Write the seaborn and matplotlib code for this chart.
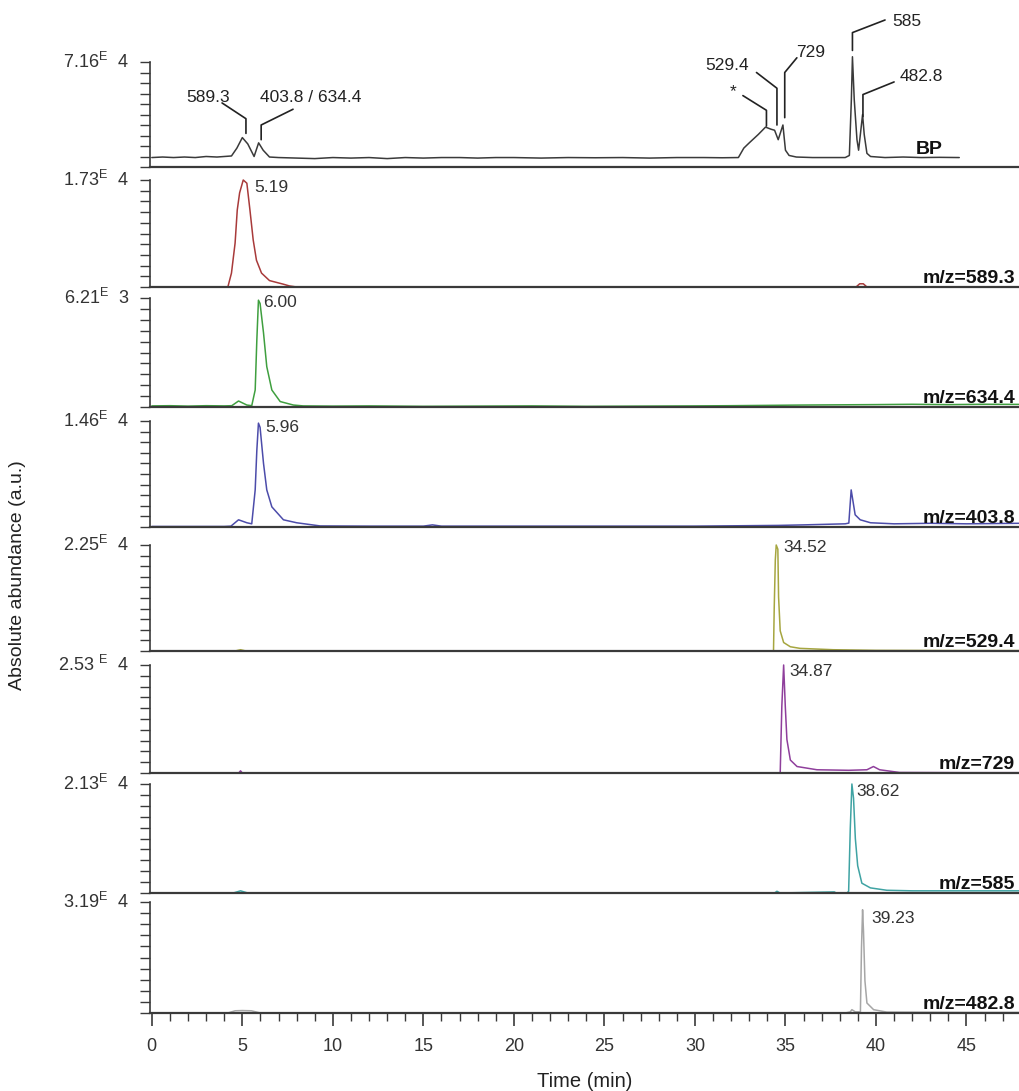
import numpy as np
import pandas as pd
import matplotlib
matplotlib.use("Agg")
import matplotlib.pyplot as plt
import seaborn as sns
from matplotlib.transforms import blended_transform_factory as btf

sns.set_style("ticks")
plt.rcParams["font.family"] = ["Liberation Sans", "DejaVu Sans"]
plt.rcParams["mathtext.fontset"] = "custom"
plt.rcParams["mathtext.rm"] = "Liberation Sans"
plt.rcParams["mathtext.it"] = "Liberation Sans"

# ---------------- data (time in min, intensity relative to panel maximum) ----
bp_time = [0, 0.6, 1.2, 1.8, 2.4, 3.0, 3.6, 4.0, 4.4, 4.7, 5.0, 5.3, 5.65, 5.9, 6.15, 6.5, 7.0, 8.0, 9.0, 10.0,
           11, 12, 13, 14, 15, 16, 17, 18, 19, 20, 21.5, 23, 24.5, 26, 27.5, 29, 30.5, 31.5, 32.4, 32.7,
           33.0, 33.5, 33.9, 34.2, 34.4, 34.6, 34.86, 35.0, 35.2, 35.6, 36.5, 37.5, 38.3, 38.53, 38.64, 38.7,
           38.8, 38.95, 39.04, 39.17, 39.26, 39.35, 39.5, 39.7, 40.5, 41.5, 42.5, 43.5, 44.6]
bp_int = [0.09, 0.095, 0.09, 0.095, 0.09, 0.10, 0.095, 0.10, 0.105, 0.18, 0.28, 0.22, 0.10, 0.23, 0.16, 0.095,
          0.09, 0.085, 0.08, 0.09, 0.085, 0.09, 0.08, 0.09, 0.085, 0.09, 0.09, 0.085, 0.09, 0.09, 0.085, 0.09,
          0.088, 0.09, 0.085, 0.09, 0.09, 0.088, 0.09, 0.18, 0.23, 0.31, 0.38, 0.36, 0.35, 0.26, 0.40, 0.16,
          0.11, 0.095, 0.09, 0.09, 0.09, 0.11, 0.64, 1.05, 0.64, 0.26, 0.16, 0.36, 0.50, 0.31, 0.13, 0.10, 0.09,
          0.095, 0.09, 0.092, 0.09]

mz5893_time = [0, 2, 4.2, 4.4, 4.6, 4.72, 4.85, 5.05, 5.25, 5.42, 5.6, 5.78, 6.06, 6.5, 7.25, 7.6, 8.0, 20,
               38.9, 39.1, 39.3, 39.5, 47.9]
mz5893_int = [0, 0, 0, 0.13, 0.41, 0.72, 0.88, 1.0, 0.97, 0.72, 0.44, 0.25, 0.13, 0.06, 0.027, 0.01, 0, 0,
              0, 0.03, 0.03, 0, 0]

mz6344_time = [0, 1.0, 2.0, 3.0, 4.0, 4.42, 4.79, 5.25, 5.52, 5.71, 5.80, 5.89, 5.98, 6.17, 6.35, 6.63, 7.09,
               7.82, 8.36, 10, 12, 15, 18, 21, 24, 27, 30, 32, 34, 36, 38, 40, 42, 44, 46, 47.9]
mz6344_int = [0.01, 0.012, 0.008, 0.012, 0.01, 0.012, 0.055, 0.018, 0.012, 0.156, 0.61, 0.98, 0.95, 0.68,
              0.37, 0.156, 0.05, 0.018, 0.01, 0.008, 0.01, 0.006, 0.008, 0.01, 0.006, 0.008, 0.01, 0.012,
              0.015, 0.018, 0.02, 0.022, 0.025, 0.022, 0.025, 0.024]

mz4038_time = [0, 2, 4.0, 4.37, 4.79, 5.25, 5.52, 5.71, 5.80, 5.89, 5.98, 6.17, 6.35, 6.63, 7.27, 8.0, 9.3,
               12, 15, 15.5, 16, 20, 25, 30, 34.6, 36, 38.3, 38.5, 38.63, 38.85, 39.13, 39.7, 41, 43, 45, 47.9]
mz4038_int = [0.005, 0.005, 0.005, 0.008, 0.068, 0.04, 0.03, 0.35, 0.72, 0.98, 0.94, 0.60, 0.35, 0.19,
              0.068, 0.04, 0.01, 0.008, 0.008, 0.02, 0.008, 0.008, 0.008, 0.008, 0.015, 0.02, 0.03, 0.037,
              0.35, 0.115, 0.068, 0.04, 0.03, 0.035, 0.03, 0.035]

mz5294_time = [0, 4.6, 4.9, 5.2, 10, 20, 30, 34.34, 34.38, 34.44, 34.49, 34.58, 34.62, 34.71, 34.9, 35.27,
               35.8, 37.65, 40, 45, 47.9]
mz5294_int = [0, 0, 0.012, 0, 0, 0, 0, 0.0, 0.41, 0.86, 1.0, 0.96, 0.51, 0.19, 0.08, 0.04, 0.025, 0.012,
              0.006, 0.004, 0.004]

mz729_time = [0, 4.8, 4.9, 5.0, 10, 20, 30, 34.71, 34.8, 34.9, 34.99, 35.08, 35.27, 35.64, 36.74, 38.5,
              39.5, 39.86, 40.2, 41.3, 45, 47.9]
mz729_int = [0, 0, 0.02, 0, 0, 0, 0, 0, 0.62, 1.0, 0.62, 0.31, 0.12, 0.06, 0.03, 0.025, 0.03, 0.06, 0.03,
             0.005, 0.003, 0.003]

mz585_time = [0, 4.5, 4.9, 5.3, 10, 20, 30, 34.4, 34.53, 34.7, 37.7, 37.8, 38.4, 38.49, 38.58, 38.67, 38.76,
              38.86, 38.99, 39.22, 39.69, 40.6, 42, 45, 47.9]
mz585_int = [0, 0, 0.02, 0, 0, 0, 0, 0, 0.016, 0, 0.01, 0, 0, 0.016, 0.59, 1.0, 0.87, 0.50, 0.25, 0.09,
             0.047, 0.025, 0.02, 0.02, 0.02]

mz4828_time = [0, 4.2, 4.6, 5.0, 5.5, 6.0, 10, 20, 30, 38.3, 38.58, 38.67, 38.86, 39.14, 39.2, 39.26, 39.31,
               39.39, 39.5, 39.87, 40.6, 45, 47.9]
mz4828_int = [0, 0, 0.02, 0.022, 0.02, 0, 0, 0, 0, 0, 0.01, 0.03, 0.01, 0.01, 0.59, 0.93, 0.74, 0.29, 0.09,
              0.03, 0.008, 0.005, 0.005]

trace_names = ["BP", "m/z=589.3", "m/z=634.4", "m/z=403.8", "m/z=529.4", "m/z=729", "m/z=585", "m/z=482.8"]
max_mantissa = ["7.16", "1.73", "6.21", "1.46", "2.25", "2.53 ", "2.13", "3.19"]
max_exponent = [4, 4, 3, 4, 4, 4, 4, 4]
peak_rt_labels = [None, "5.19", "6.00", "5.96", "34.52", "34.87", "38.62", "39.23"]

times = [bp_time, mz5893_time, mz6344_time, mz4038_time, mz5294_time, mz729_time, mz585_time, mz4828_time]
ints = [bp_int, mz5893_int, mz6344_int, mz4038_int, mz5294_int, mz729_int, mz585_int, mz4828_int]

# BP peak annotations: label, text pos (t, rel), leader line vertices
bp_notes = [
    ("589.3", (3.1, 0.66), [(3.88, 0.61), (5.2, 0.46), (5.2, 0.32)]),
    ("403.8 / 634.4", (8.8, 0.66), [(7.8, 0.55), (6.04, 0.40), (6.04, 0.26)]),
    ("*", (32.1, 0.72), [(32.65, 0.68), (33.95, 0.54), (33.95, 0.39)]),
    ("529.4", (31.8, 0.97), [(33.4, 0.90), (34.53, 0.75), (34.53, 0.40)]),
    ("729", (36.4, 1.09), [(35.63, 1.04), (34.96, 0.90), (34.96, 0.47)]),
    ("585", (41.7, 1.39), [(40.5, 1.40), (38.7, 1.28), (38.7, 1.11)]),
    ("482.8", (42.5, 0.86), [(41.0, 0.81), (39.28, 0.69), (39.28, 0.48)]),
]

# ---------------- styling / layout -----------------------------------------
colors = ["#3a3a3a", "#a83a3a", "#3f9f3f", "#4c4caa", "#a6a640", "#8f3f9c", "#3fa3a3", "#a6a6a6"]
panel_px = [(62, 167), (180, 287), (298, 407), (421, 527), (545, 651), (665, 773), (784, 893), (902, 1013)]
peak_label_pos = [None, (5.65, 0.93), (6.15, 0.96), (6.26, 0.94), (34.86, 0.98), (35.24, 0.94),
                  (38.93, 0.93), (39.76, 0.85)]

W, H = 1019, 1091
fig = plt.figure(figsize=(W / 100, H / 100), dpi=100)
left_px = 150
xmin, xmax = -0.1, 47.9
spine_c = "#3a3a3a"

axes = []
for i, (T, B) in enumerate(panel_px):
    h = B - T
    pad_top = 8 if i else 10
    bot = -0.012
    top = 1 + pad_top / h
    y0 = B - bot * h
    y1 = T - pad_top
    ax = fig.add_axes([left_px / W, 1 - y0 / H, (W - left_px) / W, (y0 - y1) / H])
    axes.append(ax)
    df = pd.DataFrame({"time": times[i], "intensity": ints[i]})
    sns.lineplot(data=df, x="time", y="intensity", ax=ax, color=colors[i], lw=1.1, sort=False,
                 estimator=None, legend=False)
    ax.set_xlim(xmin, xmax)
    ax.set_ylim(bot, top)
    for s in ["top", "right"]:
        ax.spines[s].set_visible(False)
    ax.spines["left"].set_bounds(0, 1)
    ax.spines["left"].set_color(spine_c)
    ax.spines["bottom"].set_color(spine_c)
    ax.spines["left"].set_linewidth(1.2)
    ax.spines["bottom"].set_linewidth(1.6)
    ax.spines["bottom"].set_position(("data", 0))
    ax.set_yticks(np.linspace(0, 1, 11))
    ax.tick_params(axis="y", direction="out", length=7, width=1, colors=spine_c, labelleft=False)
    ax.set_xlabel("")
    ax.set_ylabel("")
    ax.patch.set_alpha(0)

    # maximum label
    tr = btf(fig.transFigure, ax.transData)
    ax.text(129 / W, 1.0, max_mantissa[i] + r"$^{\rm E}$  " + str(max_exponent[i]), transform=tr,
            ha="right", va="center", fontsize=13, color="#333333")
    # trace name
    xr = 943 if i == 0 else 1015
    yb = 0.12 if i == 0 else 0.04
    ax.text(xr / W, yb, trace_names[i], transform=tr, ha="right", va="baseline",
            fontsize=14, fontweight="bold", color="#111111")
    # peak label
    if peak_rt_labels[i]:
        px, py = peak_label_pos[i]
        ax.text(px, py, peak_rt_labels[i], ha="left", va="center", fontsize=12.5, color="#333333")

    if i < len(panel_px) - 1:
        ax.tick_params(axis="x", bottom=False, labelbottom=False)

# BP annotations
ax0 = axes[0]
for lab, (tx, ty), verts in bp_notes:
    ax0.text(tx, ty, lab, ha="center", va="center", fontsize=12.5, color="#222222", clip_on=False)
    vx, vy = zip(*verts)
    ax0.plot(vx, vy, color="#222222", lw=1.2, clip_on=False)

# bottom x axis
axb = axes[-1]
axb.set_xticks(np.arange(0, 46, 5))
axb.set_xticks(np.arange(0, 48, 1), minor=True)
axb.tick_params(axis="x", which="major", direction="out", length=9, width=1.2, colors=spine_c,
                labelsize=13, labelcolor="#333333", pad=9)
axb.tick_params(axis="x", which="minor", direction="out", length=6, width=1, colors=spine_c)
axb.set_xlabel("Time (min)", fontsize=14.5, color="#222222", labelpad=12)

fig.text(18 / W, 1 - 575 / H, "Absolute abundance (a.u.)", rotation=90, ha="center", va="center",
         fontsize=14, color="#222222")

fig.savefig("out.png", dpi=100)
